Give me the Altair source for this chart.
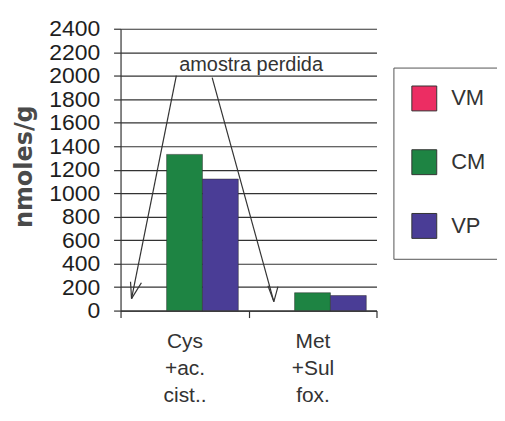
import altair as alt
import pandas as pd

# ---- data ----
categories = ["Cys +ac. cist..", "Met +Sul fox."]
series = ["VM", "CM", "VP"]
vm_values = [None, None]          # "amostra perdida" (sample lost)
cm_values = [1330, 152]
vp_values = [1120, 128]
colors = ["#ec2d63", "#1e8443", "#4a3d96"]
y_ticks = list(range(0, 2401, 200))

# annotation (in category units 0..2 along x, data units along y)
note_text = ["amostra perdida"]
note_x = [1.02]
note_y = [2044]
arrow_x = [0.436, 0.086, 0.086, 0.716, 1.198, 1.198]
arrow_y = [2001, 102, 102, 1984, 76, 76]
arrow_x2 = [0.086, 0.078, 0.163, 1.198, 1.152, 1.230]
arrow_y2 = [102, 246, 237, 76, 212, 204]

rows = []
for ci, cat in enumerate(categories):
    for s, vals in zip(series, [vm_values, cm_values, vp_values]):
        if vals[ci] is not None:
            rows.append({"cat": cat, "series": s, "value": vals[ci]})
df = pd.DataFrame(rows)

arrows_df = pd.DataFrame({"x": arrow_x, "y": arrow_y, "x2": arrow_x2, "y2": arrow_y2})
note_df = pd.DataFrame({"x": note_x, "y": note_y, "t": note_text})

FONT = "Liberation Sans"
INK = "#333333"

bars = alt.Chart(df).mark_bar(stroke="#2a2a2a", strokeWidth=0.5).encode(
    x=alt.X(
        "cat:N", sort=categories,
        scale=alt.Scale(domain=categories, paddingInner=0, paddingOuter=0),
        axis=alt.Axis(
            title=None, labelAngle=0, labelExpr="split(datum.label, ' ')",
            labelLineHeight=27, labelFontSize=21, labelFont=FONT, labelColor=INK,
            labelBaseline="top", labelPadding=13, labelOverlap=False,
            tickBand="extent", tickSize=7, tickColor=INK, domainColor=INK,
            domainWidth=1.2, tickWidth=1.2,
        ),
    ),
    xOffset=alt.XOffset("series:N", sort=series,
                        scale=alt.Scale(domain=series, paddingInner=0, paddingOuter=0.285)),
    y=alt.Y(
        "value:Q",
        scale=alt.Scale(domain=[0, 2400], nice=False),
        axis=alt.Axis(
            values=y_ticks, format="d", title="nmoles/g", labelFont=FONT, labelFontSize=23,
            labelColor="#1e1e1e", labelPadding=14, labelOverlap=False, labelFlush=False,
            tickSize=7, tickColor=INK, tickWidth=1.2, domainColor=INK, domainWidth=1.2,
            grid=True, gridColor=INK, gridWidth=1.2, gridOpacity=1,
            titleFont="DejaVu Sans", titleFontSize=24, titleFontWeight="bold",
            titleColor="#4a4a4a", titleAngle=270, titleX=-89, titleY=138,
            titleBaseline="alphabetic", titleAlign="center",
        ),
    ),
    color=alt.Color(
        "series:N",
        scale=alt.Scale(domain=series, range=colors),
        legend=alt.Legend(
            title=None, orient="none", legendX=274, legendY=39,
            symbolType="square", symbolSize=625, symbolStrokeColor=INK,
            symbolStrokeWidth=1, symbolOpacity=1,
            labelFont=FONT, labelFontSize=22, labelColor=INK, labelOffset=14,
            rowPadding=34, padding=18, strokeColor="#555555", fillColor="white",
        ),
    ),
)

xq = alt.Scale(domain=[0, 2], nice=False, zero=False)
yq = alt.Scale(domain=[0, 2400], nice=False)

arrows = alt.Chart(arrows_df).mark_rule(color=INK, strokeWidth=1.2).encode(
    x=alt.X("x:Q", scale=xq, axis=None),
    x2="x2:Q",
    y=alt.Y("y:Q", scale=yq, axis=None),
    y2="y2:Q",
)

note = alt.Chart(note_df).mark_text(
    font=FONT, fontSize=20, color=INK, align="center", baseline="alphabetic"
).encode(
    x=alt.X("x:Q", scale=xq, axis=None),
    y=alt.Y("y:Q", scale=yq, axis=None),
    text="t:N",
)

chart = alt.layer(bars, arrows, note).resolve_scale(
    x="independent", y="independent"
).properties(
    width=257, height=283,
    autosize=alt.AutoSizeParams(type="none"),
    padding={"left": 113, "top": 20, "right": 121, "bottom": 98},
).configure_view(stroke=None)

chart.save("out.html", embed_options={"renderer": "svg", "actions": False})
